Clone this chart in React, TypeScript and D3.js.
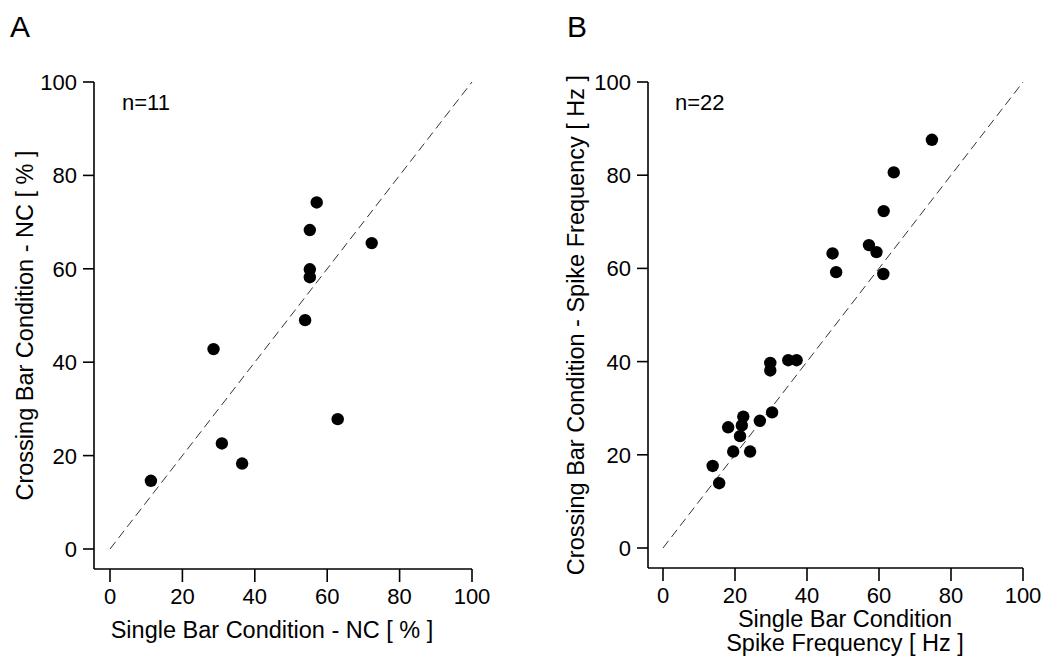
import React from "react";
import * as d3 from "d3";

const ticks = [0, 20, 40, 60, 80, 100];

const singleA = [57.1, 55.2, 72.3, 55.2, 55.2, 53.9, 28.6, 62.9, 30.9, 36.5, 11.3];
const crossA = [74.2, 68.3, 65.5, 59.9, 58.2, 49.0, 42.8, 27.8, 22.6, 18.3, 14.6];

const singleB = [74.7, 64.1, 61.3, 57.2, 59.3, 47.1, 48.1, 61.2, 29.8, 29.8, 34.8, 37.1, 30.3, 26.9, 22.3, 21.9, 18.1, 21.4, 19.5, 24.2, 13.8, 15.6];
const crossB = [87.6, 80.6, 72.3, 65.0, 63.5, 63.2, 59.2, 58.8, 39.7, 38.1, 40.3, 40.3, 29.1, 27.3, 28.2, 26.3, 25.9, 24.0, 20.7, 20.7, 17.6, 13.9];

const FONT = "'Liberation Sans', Arial, Helvetica, sans-serif";

type PanelProps = {
  letter: string;
  letterX: number;
  xs: number[];
  ys: number[];
  nLabel: string;
  xRange: [number, number];
  yRange: [number, number];
  axisX: number;
  axisY: number;
  yTitle: string;
  yTitleX: number;
  xTitle: string[];
  xTitleX: number;
  xTitleY: number;
};

function Panel(p: PanelProps) {
  const x = d3.scaleLinear().domain([0, 100]).range(p.xRange);
  const y = d3.scaleLinear().domain([0, 100]).range(p.yRange);
  const yMid = (y(100) + p.axisY) / 2;
  return (
    <g fontFamily={FONT} fill="#000">
      <text x={p.letterX} y={37} fontSize={30}>{p.letter}</text>
      <line x1={p.axisX} x2={p.axisX} y1={y(100)} y2={p.axisY} stroke="#000" strokeWidth={1.6} />
      <line x1={p.axisX} x2={x(100)} y1={p.axisY} y2={p.axisY} stroke="#000" strokeWidth={1.6} />
      {ticks.map((t) => (
        <g key={"y" + t}>
          <line x1={p.axisX - 11} x2={p.axisX} y1={y(t)} y2={y(t)} stroke="#000" strokeWidth={1.6} />
          <text x={p.axisX - 17} y={y(t)} dy="0.36em" textAnchor="end" fontSize={22}>{t}</text>
        </g>
      ))}
      {ticks.map((t) => (
        <g key={"x" + t}>
          <line x1={x(t)} x2={x(t)} y1={p.axisY} y2={p.axisY + 13} stroke="#000" strokeWidth={1.6} />
          <text x={x(t)} y={p.axisY + 35} textAnchor="middle" fontSize={22}>{t}</text>
        </g>
      ))}
      <line x1={x(0)} y1={y(0)} x2={x(100)} y2={y(100)} stroke="#333" strokeWidth={1} strokeDasharray="9,5" />
      {p.xs.map((v, i) => (
        <circle key={i} cx={x(v)} cy={y(p.ys[i])} r={6.2} fill="#000" />
      ))}
      <text x={x(0) + 12} y={110} fontSize={22}>{p.nLabel}</text>
      <text transform={`translate(${p.yTitleX},${yMid}) rotate(-90)`} textAnchor="middle" fontSize={23.5}>{p.yTitle}</text>
      {p.xTitle.map((s, i) => (
        <text key={i} x={p.xTitleX} y={p.xTitleY + i * 24} textAnchor="middle" fontSize={23.5}>{s}</text>
      ))}
    </g>
  );
}

export default function App() {
  return (
    <svg width={1046} height={668} style={{ display: "block", position: "absolute", left: 0, top: 0, background: "#fff" }}>
      <rect width={1046} height={668} fill="#fff" />
      <Panel
        letter="A"
        letterX={10}
        xs={singleA}
        ys={crossA}
        nLabel="n=11"
        xRange={[110, 472]}
        yRange={[549, 82]}
        axisX={94}
        axisY={569}
        yTitle="Crossing Bar Condition - NC [ % ]"
        yTitleX={33}
        xTitle={["Single Bar Condition - NC [ % ]"]}
        xTitleX={272}
        xTitleY={638}
      />
      <Panel
        letter="B"
        letterX={567}
        xs={singleB}
        ys={crossB}
        nLabel="n=22"
        xRange={[663, 1023]}
        yRange={[548, 82]}
        axisX={648}
        axisY={568}
        yTitle="Crossing Bar Condition - Spike Frequency [ Hz ]"
        yTitleX={584}
        xTitle={["Single Bar Condition", "Spike Frequency [ Hz ]"]}
        xTitleX={845}
        xTitleY={627}
      />
    </svg>
  );
}
